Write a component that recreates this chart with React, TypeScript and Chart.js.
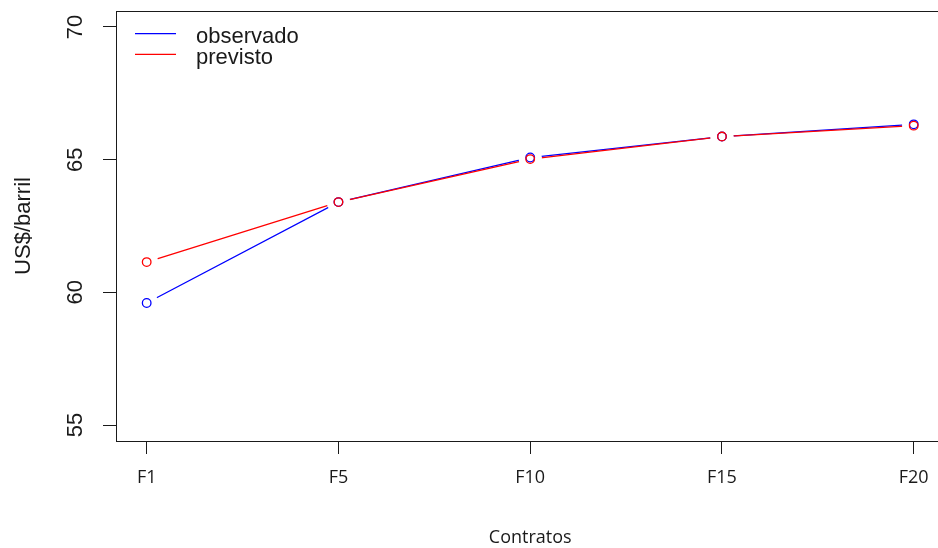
import React, { useEffect, useRef } from "react";
import { Chart, registerables } from "chart.js";

Chart.register(...registerables);

const contracts = ["F1", "F5", "F10", "F15", "F20"];
const observado = [59.6, 63.4, 65.08, 65.87, 66.33];
const previsto = [61.14, 63.4, 65.02, 65.87, 66.28];
const yTickValues = [55, 60, 65, 70];
const seriesNames = ["observado", "previsto"];
const seriesColors = ["#0000ff", "#ff0000"];
const yTitle = "US$/barril";
const xTitle = "Contratos";

const W = 950;
const H = 548;
const INK = "#1a1a1a";

export default function App() {
  const ref = useRef<HTMLCanvasElement | null>(null);

  useEffect(() => {
    const canvas = ref.current;
    if (!canvas) return;
    const toPts = (arr: number[]) => arr.map((y, i) => ({ x: i + 1, y }));

    const gapPlugin = {
      id: "gaps",
      afterDatasetDraw(chart: any, args: any) {
        if (args.index !== 2) return;
        const ctx = chart.ctx;
        ctx.save();
        ctx.fillStyle = "#ffffff";
        [0, 1].forEach((di) =>
          chart.getDatasetMeta(di).data.forEach((pt: any) => {
            ctx.beginPath();
            ctx.arc(pt.x, pt.y, 11.5, 0, Math.PI * 2);
            ctx.fill();
          })
        );
        ctx.restore();
      },
    };

    const decorPlugin = {
      id: "decor",
      afterDraw(chart: any) {
        const ctx = chart.ctx;
        const a = chart.chartArea;
        ctx.save();
        // frame
        ctx.strokeStyle = INK;
        ctx.lineWidth = 1;
        ctx.strokeRect(Math.round(a.left) + 0.5, Math.round(a.top) + 0.5, a.right - a.left, a.bottom - a.top);
        // rotated y tick labels
        const ys = chart.scales.y;
        ctx.fillStyle = INK;
        ctx.font = "22px 'Liberation Sans', Arial, sans-serif";
        ctx.textAlign = "center";
        ctx.textBaseline = "alphabetic";
        yTickValues.forEach((v) => {
          const py = ys.getPixelForValue(v);
          ctx.save();
          ctx.translate(a.left - 34.5, py);
          ctx.rotate(-Math.PI / 2);
          ctx.fillText(String(v), 0, 0);
          ctx.restore();
        });
        // legend
        ctx.textAlign = "left";
        seriesNames.forEach((name, i) => {
          const ly = a.top + 22.7 + i * 20.6;
          ctx.strokeStyle = seriesColors[i];
          ctx.lineWidth = 1.3;
          ctx.beginPath();
          ctx.moveTo(a.left + 19, ly);
          ctx.lineTo(a.left + 60, ly);
          ctx.stroke();
          ctx.fillStyle = INK;
          ctx.fillText(name, a.left + 80, a.top + 31.7 + i * 21.3);
        });
        ctx.restore();
      },
    };

    const chart = new Chart(canvas, {
      type: "line",
      data: {
        datasets: [
          {
            label: seriesNames[1] + " pts",
            data: toPts(previsto),
            showLine: false,
            borderColor: seriesColors[1],
            pointBorderColor: seriesColors[1],
            pointBackgroundColor: "rgba(0,0,0,0)",
            pointRadius: 4.3,
            pointBorderWidth: 1.3,
            order: 0,
          },
          {
            label: seriesNames[0] + " pts",
            data: toPts(observado),
            showLine: false,
            borderColor: seriesColors[0],
            pointBorderColor: seriesColors[0],
            pointBackgroundColor: "rgba(0,0,0,0)",
            pointRadius: 4.3,
            pointBorderWidth: 1.3,
            order: 1,
          },
          {
            label: seriesNames[1],
            data: toPts(previsto),
            borderColor: seriesColors[1],
            borderWidth: 1.3,
            pointRadius: 0,
            tension: 0,
            fill: false,
            order: 2,
          },
          {
            label: seriesNames[0],
            data: toPts(observado),
            borderColor: seriesColors[0],
            borderWidth: 1.3,
            pointRadius: 0,
            tension: 0,
            fill: false,
            order: 3,
          },
        ],
      },
      options: {
        animation: false,
        responsive: false,
        devicePixelRatio: 1,
        layout: { padding: { top: 11, right: W - 947, left: 0, bottom: 0 } },
        plugins: { legend: { display: false }, tooltip: { enabled: false } },
        scales: {
          x: {
            type: "linear",
            min: 0.84,
            max: 5.16,
            afterBuildTicks: (s: any) => {
              s.ticks = contracts.map((_, i) => ({ value: i + 1 }));
            },
            afterFit: (s: any) => {
              s.height = 107;
            },
            ticks: {
              callback: (v: any) => contracts[Math.round(Number(v)) - 1] ?? "",
              font: { family: "'Open Sans', sans-serif", size: 18 },
              color: INK,
              padding: 13,
              maxRotation: 0,
              minRotation: 0,
              autoSkip: false,
            },
            grid: { drawOnChartArea: false, drawTicks: true, tickLength: 13, color: INK, lineWidth: 1 },
            border: { display: false },
            title: {
              display: true,
              text: xTitle,
              font: { family: "'Open Sans', sans-serif", size: 18 },
              color: INK,
              padding: { top: 0, bottom: -1 },
            },
          },
          y: {
            type: "linear",
            min: 54.4,
            max: 70.6,
            afterBuildTicks: (s: any) => {
              s.ticks = yTickValues.map((v) => ({ value: v }));
            },
            afterFit: (s: any) => {
              s.width = 116;
            },
            ticks: { display: false },
            grid: { drawOnChartArea: false, drawTicks: true, tickLength: 13, color: INK, lineWidth: 1 },
            border: { display: false },
            title: {
              display: true,
              text: yTitle,
              font: { family: "'Liberation Sans', Arial, sans-serif", size: 22 },
              color: INK,
              padding: { top: 11, bottom: 0 },
            },
          },
        },
      },
      plugins: [gapPlugin, decorPlugin],
    } as any);

    return () => chart.destroy();
  }, []);

  return (
    <div
      style={{
        position: "fixed",
        left: 0,
        top: 0,
        width: 938,
        height: 548,
        overflow: "hidden",
        background: "#ffffff",
      }}
    >
      <canvas ref={ref} width={W} height={H} style={{ display: "block", width: W, height: H }} />
    </div>
  );
}
